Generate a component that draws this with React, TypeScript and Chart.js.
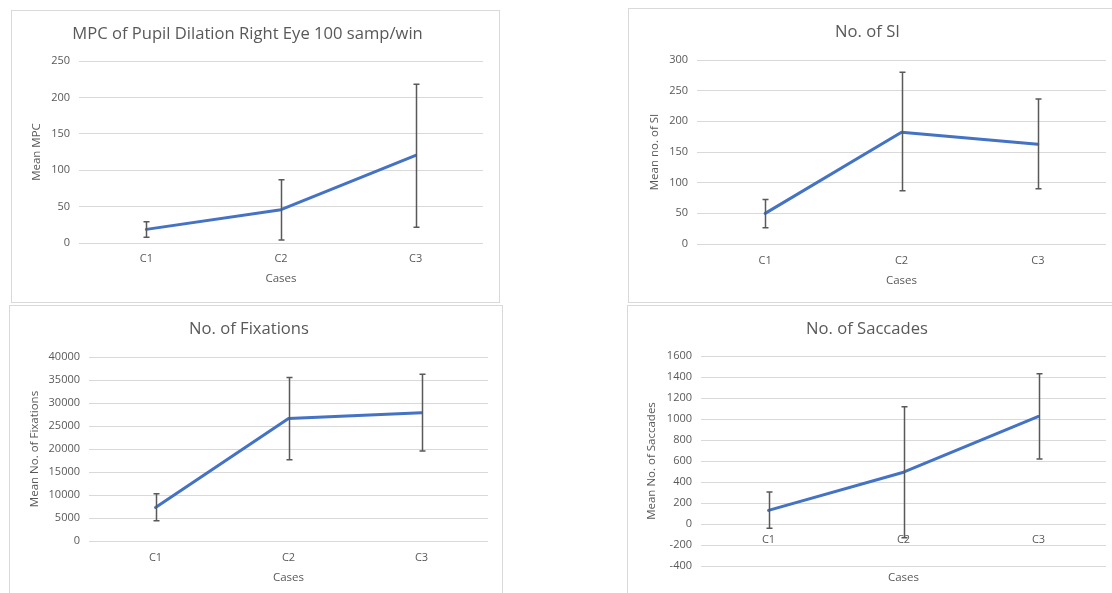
import React, { useEffect, useRef } from "react";
import { Chart, registerables } from "chart.js";

Chart.register(...registerables);

// ---------- data ----------
const categories = ["C1", "C2", "C3"];

const mpcMean = [18.7, 45.7, 120.5];
const mpcLow = [7.8, 4.1, 21.5];
const mpcHigh = [29.2, 86.8, 218];
const mpcTicks = [0, 50, 100, 150, 200, 250];

const siMean = [49.9, 182.3, 162.8];
const siLow = [26.6, 86.8, 90.1];
const siHigh = [72.7, 280, 236.6];
const siTicks = [0, 50, 100, 150, 200, 250, 300];

const fixMean = [7290, 26640, 27870];
const fixLow = [4400, 17690, 19570];
const fixHigh = [10250, 35520, 36250];
const fixTicks = [0, 5000, 10000, 15000, 20000, 25000, 30000, 35000, 40000];

const sacMean = [130, 493, 1024];
const sacLow = [-41, -130, 620];
const sacHigh = [305, 1116, 1431];
const sacTicks = [-400, -200, 0, 200, 400, 600, 800, 1000, 1200, 1400, 1600];

// ---------- styling ----------
const FONT = "'Open Sans', 'Noto Sans', sans-serif";
const TEXT = "#595959";
const GRID = "#D9D9D9";
const LINE = "#4472C4";
const ERR = "#595959";

type Spec = {
  title: string;
  yTitle: string;
  mean: number[];
  low: number[];
  high: number[];
  ticks: number[];
  box: { left: number; top: number; width: number; height: number };
  area: { l: number; t: number; r: number; b: number };
  titleY: number;
  yTitleX: number;
  xTitleY: number;
  labelPad: number;
  zeroLabels?: boolean;
};

const specs: Spec[] = [
  {
    title: "MPC of Pupil Dilation Right Eye 100 samp/win",
    yTitle: "Mean MPC",
    mean: mpcMean, low: mpcLow, high: mpcHigh, ticks: mpcTicks,
    box: { left: 11, top: 10, width: 489, height: 293 },
    area: { l: 67, t: 50, r: 471, b: 232 },
    titleY: 23, yTitleX: 25, xTitleY: 268, labelPad: 9,
  },
  {
    title: "No. of SI",
    yTitle: "Mean no. of SI",
    mean: siMean, low: siLow, high: siHigh, ticks: siTicks,
    box: { left: 628, top: 8, width: 495, height: 295 },
    area: { l: 68, t: 51, r: 477, b: 235 },
    titleY: 23, yTitleX: 26, xTitleY: 272, labelPad: 10,
  },
  {
    title: "No. of Fixations",
    yTitle: "Mean No. of Fixations",
    mean: fixMean, low: fixLow, high: fixHigh, ticks: fixTicks,
    box: { left: 9, top: 305, width: 494, height: 296 },
    area: { l: 79, t: 51, r: 478, b: 235 },
    titleY: 23, yTitleX: 25, xTitleY: 272, labelPad: 10,
  },
  {
    title: "No. of Saccades",
    yTitle: "Mean No. of Saccades",
    mean: sacMean, low: sacLow, high: sacHigh, ticks: sacTicks,
    box: { left: 627, top: 305, width: 495, height: 296 },
    area: { l: 73, t: 50, r: 478, b: 260 },
    titleY: 23, yTitleX: 24, xTitleY: 272, labelPad: 9, zeroLabels: true,
  },
];

function makeErrorBars(low: number[], high: number[]) {
  return {
    id: "errorBars",
    afterDatasetsDraw(chart: any) {
      const xs = chart.scales.x;
      const ys = chart.scales.y;
      const ctx = chart.ctx;
      ctx.save();
      ctx.strokeStyle = ERR;
      ctx.lineWidth = 1.5;
      const cap = 3;
      for (let i = 0; i < low.length; i++) {
        const x = Math.round(xs.getPixelForValue(i)) + 0.5;
        const y1 = ys.getPixelForValue(low[i]);
        const y2 = ys.getPixelForValue(high[i]);
        ctx.beginPath();
        ctx.moveTo(x, y1);
        ctx.lineTo(x, y2);
        ctx.moveTo(x - cap, y1);
        ctx.lineTo(x + cap, y1);
        ctx.moveTo(x - cap, y2);
        ctx.lineTo(x + cap, y2);
        ctx.stroke();
      }
      ctx.restore();
    },
  };
}

function Panel({ spec }: { spec: Spec }) {
  const ref = useRef<HTMLCanvasElement | null>(null);
  const W = spec.box.width - 2;
  const H = spec.box.height - 2;

  useEffect(() => {
    if (!ref.current) return;
    const titleSize = 16.6;
    const titleLH = titleSize * 1.2;
    const axSize = 11.5;
    const axLH = axSize * 1.2;
    const a = spec.area;
    const pt = spec.titleY - titleLH / 2;
    const pb = a.t - pt - titleLH;

    const scales: any = {
      x: {
        type: "category",
        offset: true,
        grid: { display: false, drawTicks: false },
        border: { display: false },
        ticks: {
          display: !spec.zeroLabels,
          color: TEXT,
          padding: spec.labelPad,
          font: { family: FONT, size: 11 },
        },
        title: {
          display: true,
          text: "Cases",
          color: TEXT,
          font: { family: FONT, size: axSize },
          padding: { top: 0, bottom: H - spec.xTitleY - axLH / 2 },
        },
        afterFit: (s: any) => {
          s.height = H - a.b;
        },
      },
      y: {
        type: "linear",
        min: spec.ticks[0],
        max: spec.ticks[spec.ticks.length - 1],
        grid: { color: GRID, lineWidth: 1, drawTicks: false },
        border: { display: false },
        afterBuildTicks: (s: any) => {
          s.ticks = spec.ticks.map((v) => ({ value: v }));
        },
        ticks: {
          color: TEXT,
          padding: 9,
          font: { family: FONT, size: 11 },
          callback: (v: any) => String(v),
        },
        title: {
          display: true,
          text: spec.yTitle,
          color: TEXT,
          font: { family: FONT, size: axSize },
          padding: { top: spec.yTitleX - axLH / 2, bottom: 0 },
        },
        afterFit: (s: any) => {
          s.width = a.l;
        },
      },
    };
    if (spec.zeroLabels) {
      scales.x2 = {
        type: "category",
        axis: "x",
        position: { y: 0 },
        offset: true,
        grid: { display: false, drawTicks: false },
        border: { display: false },
        ticks: {
          color: TEXT,
          padding: spec.labelPad,
          font: { family: FONT, size: 11 },
        },
      };
    }

    const chart = new Chart(ref.current, {
      type: "line",
      data: {
        labels: categories,
        datasets: [
          {
            data: spec.mean,
            borderColor: LINE,
            backgroundColor: LINE,
            borderWidth: 3,
            pointRadius: 0,
            tension: 0,
            borderCapStyle: "round",
            borderJoinStyle: "round",
            clip: false as any,
          },
        ],
      },
      options: {
        responsive: false,
        animation: false,
        devicePixelRatio: 1,
        layout: { padding: { left: 0, top: 0, bottom: 0, right: W - a.r } },
        plugins: {
          legend: { display: false },
          tooltip: { enabled: false },
          title: {
            display: true,
            text: spec.title,
            color: TEXT,
            font: { family: FONT, size: titleSize, weight: "normal" as any, lineHeight: 1.2 },
            padding: { top: pt, bottom: pb },
          },
        },
        scales,
      },
      plugins: [makeErrorBars(spec.low, spec.high)],
    });
    return () => chart.destroy();
  }, []);

  return (
    <div
      style={{
        position: "absolute",
        left: spec.box.left,
        top: spec.box.top,
        width: spec.box.width,
        height: spec.box.height,
        border: "1px solid #D9D9D9",
        boxSizing: "border-box",
        background: "#fff",
      }}
    >
      <canvas
        ref={ref}
        width={W}
        height={H}
        style={{ display: "block", width: W, height: H }}
      />
    </div>
  );
}

export default function App() {
  return (
    <div
      style={{
        position: "absolute",
        left: 0,
        top: 0,
        width: 1112,
        height: 593,
        overflow: "hidden",
        background: "#fff",
      }}
    >
      {specs.map((s, i) => (
        <Panel key={i} spec={s} />
      ))}
    </div>
  );
}
